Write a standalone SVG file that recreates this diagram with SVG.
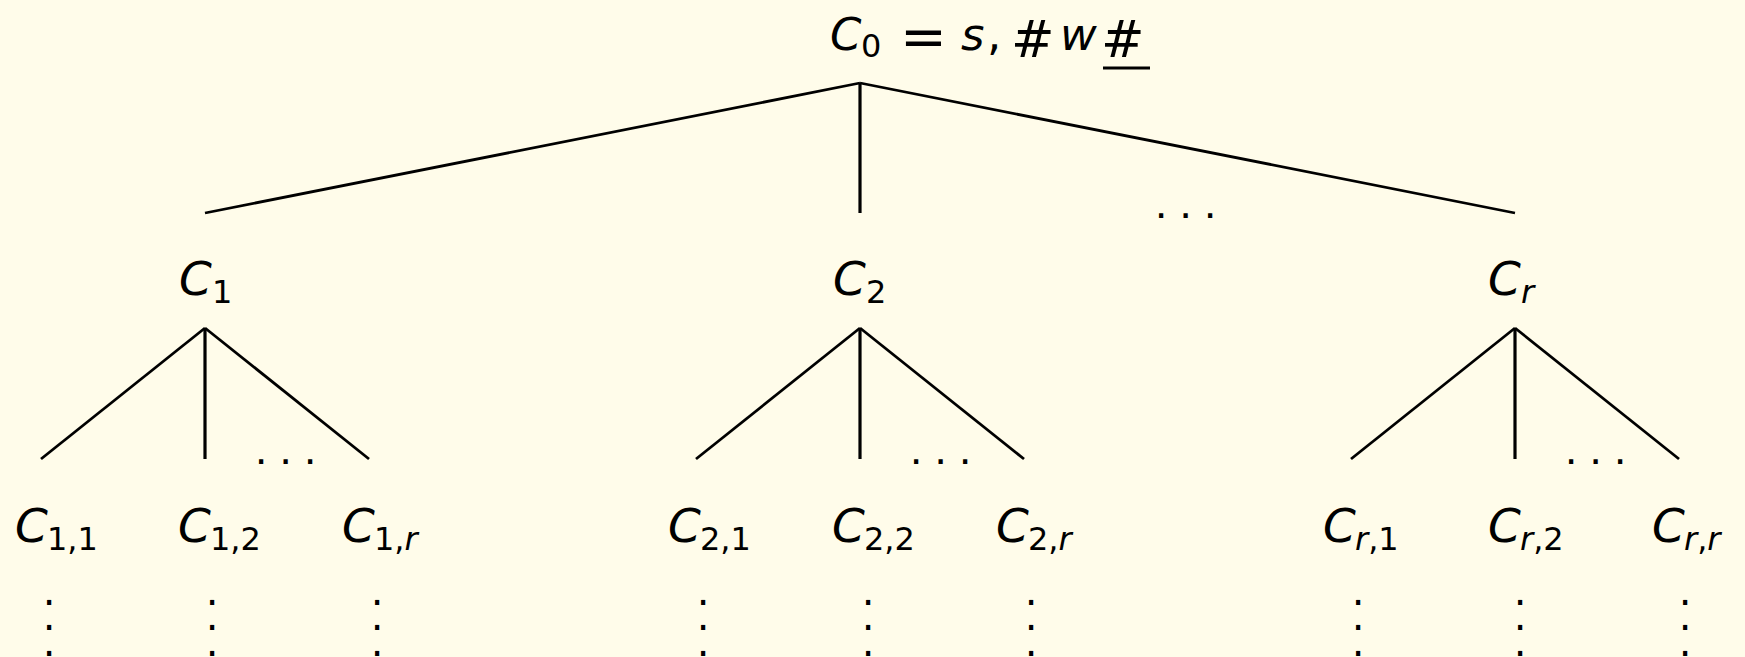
<svg xmlns="http://www.w3.org/2000/svg" width="1745" height="657" viewBox="0 0 1745 657">
<style>
.bg{fill:#fffcea}
.e{stroke:#000;stroke-width:2.8;fill:none;stroke-linecap:butt}
.v{stroke-width:3.2}
text{font-family:"DejaVu Sans","Liberation Sans",sans-serif;fill:#000}
.m{font-size:47px}
.r{font-size:45px}
.i{font-style:italic}
.s{font-size:32px}
.h{font-size:52px}
.eq{font-size:56px}
.hd{font-family:"Liberation Sans",sans-serif;font-size:44px}
.vd{font-size:40px}
</style>
<rect class="bg" x="0" y="0" width="1745" height="657"/>
<g id="connectors">
<line class="e" x1="860" y1="83" x2="205" y2="213"/>
<line class="e v" x1="860" y1="83" x2="860" y2="213"/>
<line class="e" x1="860" y1="83" x2="1515" y2="213"/>
<line class="e" x1="205" y1="328" x2="41" y2="459"/>
<line class="e v" x1="205" y1="328" x2="205" y2="459"/>
<line class="e" x1="205" y1="328" x2="369" y2="459"/>
<line class="e" x1="860" y1="328" x2="696" y2="459"/>
<line class="e v" x1="860" y1="328" x2="860" y2="459"/>
<line class="e" x1="860" y1="328" x2="1024" y2="459"/>
<line class="e" x1="1515" y1="328" x2="1351" y2="459"/>
<line class="e v" x1="1515" y1="328" x2="1515" y2="459"/>
<line class="e" x1="1515" y1="328" x2="1679" y2="459"/>
</g>
<g id="root">
<text class="r"><tspan class="i" x="830" y="50">C</tspan><tspan class="s" x="861" y="57">0</tspan><tspan class="eq" x="900" y="56">=</tspan><tspan class="i" x="961" y="50">s</tspan><tspan x="987" y="50">,</tspan><tspan class="h" x="1011" y="57">#</tspan><tspan class="i" x="1060" y="50">w</tspan><tspan class="h" x="1101" y="57">#</tspan></text>
<line x1="1103" y1="68" x2="1150" y2="68" stroke="#000" stroke-width="3"/>
</g>
<g id="dots-l1"><text class="hd" x="1155" y="218">. . .</text></g>
<g id="c1"><text class="m"><tspan class="i" x="179" y="295">C</tspan><tspan class="s" x="212" y="303">1</tspan></text></g>
<g id="c2"><text class="m"><tspan class="i" x="833" y="295">C</tspan><tspan class="s" x="866" y="303">2</tspan></text></g>
<g id="cr"><text class="m"><tspan class="i" x="1488" y="295">C</tspan><tspan class="s i" x="1521" y="303">r</tspan></text></g>
<g id="dots-l2-1"><text class="hd" x="255" y="464">. . .</text></g>
<g id="dots-l2-2"><text class="hd" x="910" y="464">. . .</text></g>
<g id="dots-l2-r"><text class="hd" x="1565" y="464">. . .</text></g>
<g id="c11"><text class="m"><tspan class="i" x="15" y="542">C</tspan><tspan class="s" x="47" y="550">1,1</tspan></text></g>
<g id="c12"><text class="m"><tspan class="i" x="178" y="542">C</tspan><tspan class="s" x="210" y="550">1,2</tspan></text></g>
<g id="c1r"><text class="m"><tspan class="i" x="342" y="542">C</tspan><tspan class="s" x="374" y="550">1,<tspan class="i">r</tspan></tspan></text></g>
<g id="c21"><text class="m"><tspan class="i" x="668" y="542">C</tspan><tspan class="s" x="700" y="550">2,1</tspan></text></g>
<g id="c22"><text class="m"><tspan class="i" x="832" y="542">C</tspan><tspan class="s" x="864" y="550">2,2</tspan></text></g>
<g id="c2r"><text class="m"><tspan class="i" x="996" y="542">C</tspan><tspan class="s" x="1028" y="550">2,<tspan class="i">r</tspan></tspan></text></g>
<g id="cr1"><text class="m"><tspan class="i" x="1323" y="542">C</tspan><tspan class="s" x="1355" y="550"><tspan class="i">r</tspan>,1</tspan></text></g>
<g id="cr2"><text class="m"><tspan class="i" x="1488" y="542">C</tspan><tspan class="s" x="1520" y="550"><tspan class="i">r</tspan>,2</tspan></text></g>
<g id="crr"><text class="m"><tspan class="i" x="1652" y="542">C</tspan><tspan class="s" x="1684" y="550"><tspan class="i">r</tspan>,<tspan class="i">r</tspan></tspan></text></g>
<g id="vdots">
<text class="vd" text-anchor="middle"><tspan x="49" y="605">.</tspan><tspan x="49" y="630">.</tspan><tspan x="49" y="656">.</tspan></text>
<text class="vd" text-anchor="middle"><tspan x="212" y="605">.</tspan><tspan x="212" y="630">.</tspan><tspan x="212" y="656">.</tspan></text>
<text class="vd" text-anchor="middle"><tspan x="377" y="605">.</tspan><tspan x="377" y="630">.</tspan><tspan x="377" y="656">.</tspan></text>
<text class="vd" text-anchor="middle"><tspan x="703" y="605">.</tspan><tspan x="703" y="630">.</tspan><tspan x="703" y="656">.</tspan></text>
<text class="vd" text-anchor="middle"><tspan x="868" y="605">.</tspan><tspan x="868" y="630">.</tspan><tspan x="868" y="656">.</tspan></text>
<text class="vd" text-anchor="middle"><tspan x="1031" y="605">.</tspan><tspan x="1031" y="630">.</tspan><tspan x="1031" y="656">.</tspan></text>
<text class="vd" text-anchor="middle"><tspan x="1358" y="605">.</tspan><tspan x="1358" y="630">.</tspan><tspan x="1358" y="656">.</tspan></text>
<text class="vd" text-anchor="middle"><tspan x="1520" y="605">.</tspan><tspan x="1520" y="630">.</tspan><tspan x="1520" y="656">.</tspan></text>
<text class="vd" text-anchor="middle"><tspan x="1685" y="605">.</tspan><tspan x="1685" y="630">.</tspan><tspan x="1685" y="656">.</tspan></text>
</g>
</svg>
